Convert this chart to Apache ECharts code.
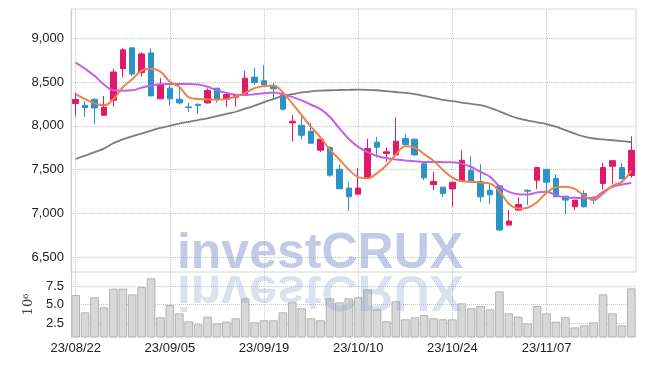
<!DOCTYPE html>
<html><head><meta charset="utf-8">
<script src="https://cdn.jsdelivr.net/npm/echarts@6/dist/echarts.min.js"></script>
<style>html,body{margin:0;padding:0;background:#fff}#c{width:645px;height:366px}</style>
</head><body><div id="c"></div>
<script>
const dates = ['23/08/22','23/08/23','23/08/24','23/08/25','23/08/28','23/08/29','23/08/30','23/08/31','23/09/01','23/09/04',
'23/09/05','23/09/06','23/09/07','23/09/08','23/09/11','23/09/12','23/09/13','23/09/14','23/09/15','23/09/18',
'23/09/19','23/09/20','23/09/21','23/09/22','23/09/25','23/09/26','23/09/27','23/10/04','23/10/05','23/10/06',
'23/10/10','23/10/11','23/10/12','23/10/13','23/10/16','23/10/17','23/10/18','23/10/19','23/10/20','23/10/23',
'23/10/24','23/10/25','23/10/26','23/10/27','23/10/30','23/10/31','23/11/01','23/11/02','23/11/03','23/11/06',
'23/11/07','23/11/08','23/11/09','23/11/10','23/11/13','23/11/14','23/11/15','23/11/16','23/11/17','23/11/20'];
const opens = [8253,8234,8303,8119,8291,8651,8889,8606,8831,8307,8429,8303,8215,8245,8261,8429,8304,8326,8345,8555,
8513,8455,8348,8033,8006,7938,7722,7752,7505,7289,7220,7403,7813,7684,7668,7855,7847,7566,7330,7300,
7280,7367,7492,7364,7265,7314,6867,7038,7265,7379,7504,7402,7197,7076,7227,7167,7341,7538,7523,7432];
const closes = [8300,8207,8203,8211,8613,8866,8590,8820,8341,8471,8307,8261,8207,8230,8403,8296,8356,8350,8543,8493,
8467,8421,8189,8052,7892,7801,7847,7437,7281,7190,7289,7741,7756,7703,7824,7786,7668,7406,7365,7228,
7356,7606,7367,7189,7212,6811,6913,7102,7254,7523,7356,7189,7152,7152,7076,7152,7523,7602,7394,7720];
const lows = [8105,8100,8020,8115,8219,8552,8567,8560,8335,8305,8234,8242,8157,8138,8253,8265,8212,8220,8340,8467,
8460,8296,8177,7824,7843,7794,7699,7418,7281,7031,7220,7395,7638,7589,7668,7786,7661,7380,7266,7190,
7076,7360,7352,7133,7106,6803,6867,7027,7095,7280,7246,7189,6989,7038,7068,7106,7273,7341,7394,7409];
const highs = [8378,8280,8310,8341,8648,8885,8889,8839,8885,8548,8464,8441,8261,8253,8426,8429,8379,8360,8627,8664,
8690,8486,8367,8120,8128,8033,7847,7765,7558,7353,7520,7851,7873,7752,8094,7904,7855,7593,7475,7300,
7360,7720,7652,7561,7341,7322,7038,7182,7273,7523,7504,7443,7197,7152,7265,7197,7576,7602,7576,7879];
const ma5 = [8360,8303,8255,8234,8303,8440,8530,8630,8650,8617,8502,8445,8325,8305,8300,8300,8304,8335,8375,8430,
8455,8460,8380,8253,8120,7987,7866,7729,7615,7500,7415,7400,7460,7550,7670,7765,7750,7676,7600,7495,
7409,7367,7360,7352,7340,7250,7110,7055,7065,7130,7235,7300,7305,7280,7200,7155,7225,7315,7360,7490];
const ma20 = [8720,8650,8570,8470,8405,8400,8405,8435,8460,8475,8477,8477,8477,8470,8445,8405,8375,8355,8350,8360,
8370,8380,8360,8330,8290,8240,8190,8100,7970,7850,7760,7700,7655,7630,7615,7605,7595,7587,7587,7585,
7583,7568,7530,7473,7417,7311,7246,7220,7216,7239,7246,7208,7182,7178,7174,7178,7246,7303,7330,7348];
const ma60 = [7621,7660,7700,7740,7800,7845,7880,7910,7945,7975,8000,8025,8045,8065,8085,8110,8135,8160,8195,8230,
8270,8305,8340,8360,8380,8392,8400,8405,8408,8410,8412,8410,8405,8395,8385,8375,8360,8340,8318,8295,
8282,8265,8250,8235,8205,8165,8120,8085,8060,8040,8020,7990,7950,7910,7875,7855,7845,7835,7825,7815];
const volumes = [6.28,3.94,5.97,4.62,7.14,7.14,6.37,7.36,8.54,3.27,4.93,3.81,2.73,2.32,3.36,2.45,2.68,3.13,5.83,2.59,
2.86,2.86,3.94,5.29,4.48,3.13,2.86,5.83,5.29,5.83,5.97,7.05,4.35,2.73,5.43,3.0,3.27,3.58,3.13,3.0,
3.0,5.16,4.48,4.8,4.35,6.78,3.81,3.36,2.45,4.8,3.81,2.68,3.27,1.91,2.18,2.59,6.37,3.81,2.18,7.18];
const priceTicks = [6500,7000,7500,8000,8500,9000];
const volumeTicks = [2.5,5,7.5];

const UP = '#e2196a', DOWN = '#2d93c6';
const FONT = 'Liberation Sans';
const gridLine = {show:true, lineStyle:{type:'dotted', color:'#c3c6d6', width:1}};
const labelStyle = {fontFamily: FONT, fontSize: 13, color: '#222'};

const chart = echarts.init(document.getElementById('c'));
chart.setOption({
  animation: false,
  backgroundColor: '#fff',
  grid: [
    {left:71, right:9, top:9, height:263, show:true, borderColor:'#d6d6d6', borderWidth:1},
    {left:71, right:9, top:272, height:65}
  ],
  xAxis: [
    {type:'category', gridIndex:0, data:dates, boundaryGap:true,
     axisLine:{show:false}, axisTick:{show:false}, axisLabel:{show:false},
     splitLine:Object.assign({interval:9, alignWithLabel:true}, gridLine)},
    {type:'category', gridIndex:1, data:dates, boundaryGap:true,
     axisLine:{show:false}, axisTick:{show:false},
     axisLabel:Object.assign({interval:9, margin:5}, labelStyle),
     splitLine:Object.assign({interval:9, alignWithLabel:true}, gridLine)}
  ],
  yAxis: [
    {type:'value', gridIndex:0, min:6332, max:9332,
     axisLine:{show:true, lineStyle:{color:'#cfcfcf'}},
     axisTick:{show:false, customValues:priceTicks},
     axisLabel:Object.assign({customValues:priceTicks, margin:7,
       formatter:v=>Number(v).toLocaleString('en-US')}, labelStyle),
     splitLine:gridLine},
    {type:'value', gridIndex:1, min:0.6, max:9.4,
     name:'10\u2076', nameLocation:'middle', nameRotate:90, nameGap:35,
     nameTextStyle:{fontFamily:'DejaVu Serif', fontSize:13, color:'#444'},
     axisLine:{show:true, lineStyle:{color:'#cfcfcf'}},
     axisTick:{show:false, customValues:volumeTicks},
     axisLabel:Object.assign({customValues:volumeTicks, margin:7,
       formatter:v=>Number(v).toFixed(1)}, labelStyle),
     splitLine:gridLine}
  ],
  series: [
    {type:'candlestick', xAxisIndex:0, yAxisIndex:0, barWidth:6,
     data: dates.map((d,i)=>[opens[i], closes[i], lows[i], highs[i]]),
     itemStyle:{color:UP, color0:DOWN, borderColor:UP, borderColor0:DOWN, borderWidth:1}},
    {type:'line', xAxisIndex:0, yAxisIndex:0, data:ma60, symbol:'none', smooth:0.4,
     lineStyle:{color:'#7d7d7d', width:1.8}},
    {type:'line', xAxisIndex:0, yAxisIndex:0, data:ma20, symbol:'none', smooth:0.4,
     lineStyle:{color:'#c95ce8', width:2}},
    {type:'line', xAxisIndex:0, yAxisIndex:0, data:ma5, symbol:'none', smooth:0.4,
     lineStyle:{color:'#ee8247', width:2}},
    {type:'bar', xAxisIndex:1, yAxisIndex:1, data:volumes, barCategoryGap:'8%',
     itemStyle:{color:'#d8d8d8', borderColor:'#b3b3b3', borderWidth:1}}
  ],
  graphic: [
    {type:'text', x:320, y:272, z:100, silent:true,
     style:{text:'investCRUX', x:0, y:-17.3, align:'center', verticalAlign:'middle',
       font:'bold 50px "Liberation Sans"', fill:'rgba(140,154,205,0.52)'}},
    {type:'text', x:320, y:272, scaleY:-1, z:100, silent:true,
     style:{text:'investCRUX', x:0, y:-17.3, align:'center', verticalAlign:'middle',
       font:'bold 50px "Liberation Sans"', fill:'rgba(140,154,205,0.3)'}}
  ]
});
</script></body></html>
